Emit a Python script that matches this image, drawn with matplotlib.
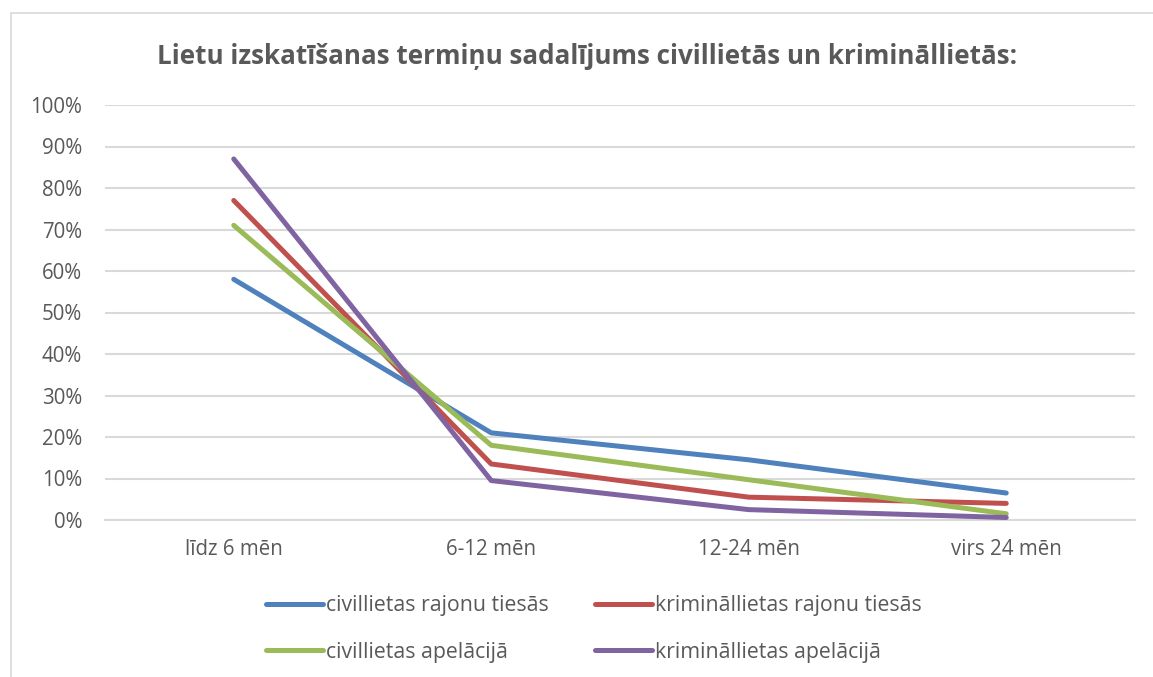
import matplotlib
matplotlib.use("Agg")
import matplotlib.pyplot as plt
from matplotlib.lines import Line2D
from matplotlib.patches import Rectangle

# ── Data ──────────────────────────────────────────────────────────────────────
categories = ["līdz 6 mēn", "6-12 mēn", "12-24 mēn", "virs 24 mēn"]
civil_rajon = [0.58, 0.21, 0.145, 0.065]
krim_rajon = [0.77, 0.135, 0.055, 0.04]
civil_apel = [0.71, 0.18, 0.097, 0.015]
krim_apel = [0.87, 0.095, 0.025, 0.006]

series_names = [
    "civillietas rajonu tiesās",
    "krimināllietas rajonu tiesās",
    "civillietas apelācijā",
    "krimināllietas apelācijā",
]
y_ticks = [i / 10 for i in range(11)]
y_labels = [f"{i * 10}%" for i in range(11)]

# ── Style ─────────────────────────────────────────────────────────────────────
BLUE = "#4F81BD"
RED = "#C0504D"
GREEN = "#9BBB59"
PURPLE = "#8064A2"
GRID = "#D9D9D9"
TEXT = "#595959"
FONT = "Open Sans"

plt.rcParams["font.family"] = [FONT, "DejaVu Sans"]

W, H = 1153, 677
fig = plt.figure(figsize=(W / 100, H / 100), dpi=100)
fig.patch.set_facecolor("white")

# chart border (top + left, runs off the image)
fig.add_artist(Rectangle((11 / W, -0.1), 1.2, 1 - 13 / H + 0.1,
                         transform=fig.transFigure, fill=False,
                         edgecolor=GRID, linewidth=1.2))

ax = fig.add_axes([105 / W, 1 - 520 / H, 1030 / W, 415 / H])
x = range(len(categories))
lw = 3.6
colors = [BLUE, RED, GREEN, PURPLE]
for vals, col in zip([civil_rajon, krim_rajon, civil_apel, krim_apel], colors):
    ax.plot(x, vals, color=col, lw=lw, solid_capstyle="round",
            solid_joinstyle="round", zorder=3)

ax.set_xlim(-0.5, len(categories) - 0.5)
ax.set_ylim(0, 1)
ax.set_yticks(y_ticks)
ax.set_yticklabels(y_labels)
ax.set_xticks(list(x))
ax.set_xticklabels(categories)
ax.tick_params(length=0, colors=TEXT, labelsize=14.8)
ax.tick_params(axis="y", pad=16.5)
ax.tick_params(axis="x", pad=14)
ax.grid(axis="y", color=GRID, lw=1.5, zorder=0)
for s in ["top", "right", "left"]:
    ax.spines[s].set_visible(False)
ax.spines["bottom"].set_color(GRID)
ax.spines["bottom"].set_linewidth(1.5)
ax.set_facecolor("none")

fig.text(587 / W, 1 - 57 / H,
         "Lietu izskatīšanas termiņu sadalījums civillietās un krimināllietās:",
         ha="center", va="center", fontsize=18.7, fontweight="bold", color=TEXT)

# legend fills column-wise, so reorder to get row-wise layout
order = [0, 2, 1, 3]
handles = [Line2D([0], [0], color=colors[i], lw=lw, solid_capstyle="round")
           for i in order]
labels = [series_names[i] for i in order]
leg = fig.legend(handles, labels, ncol=2, frameon=False,
                 loc="upper left", bbox_to_anchor=(266 / W, 1 - 595 / H),
                 fontsize=15.3, handlelength=2.68, handletextpad=0.14,
                 columnspacing=2.2, labelspacing=1.22, labelcolor=TEXT,
                 borderpad=0, borderaxespad=0)

fig.savefig("out.png", dpi=100)
